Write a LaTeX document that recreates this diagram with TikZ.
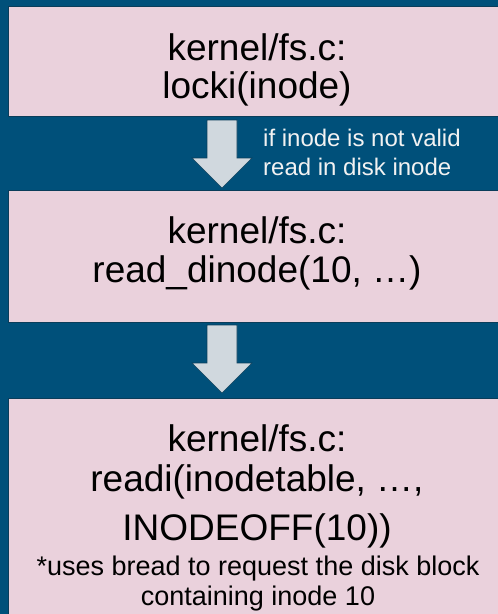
\documentclass[tikz,border=0pt]{standalone}
\usepackage{fontspec}
\setmainfont{Liberation Sans}
\definecolor{bgblue}{HTML}{00507A}
\definecolor{boxpink}{HTML}{EAD1DC}
\definecolor{boxedge}{HTML}{0A3D5A}
\definecolor{arrowfill}{HTML}{D0D8DE}
\definecolor{labelwhite}{HTML}{F2F2F2}
\tikzset{
  box/.style={rectangle, fill=boxpink, draw=boxedge, line width=0.8pt, inner sep=0pt, anchor=north west},
  bigtext/.style={inner sep=0pt, anchor=base, text=black, font=\fontsize{37}{37}\selectfont},
  smalltext/.style={inner sep=0pt, anchor=base, text=black, font=\fontsize{27}{30}\selectfont},
  labeltext/.style={inner sep=0pt, anchor=base west, text=labelwhite, font=\fontsize{24}{29}\selectfont},
  blockarrow/.style={fill=arrowfill, draw=boxedge, line width=0.6pt, line join=miter}
}
\begin{document}
\begin{tikzpicture}[x=1pt,y=-1pt]
\useasboundingbox (0,0) rectangle (498,614);
\clip (0,0) rectangle (498,614);
\fill[bgblue] (0,0) rectangle (498,614);
% boxes
\node[box, minimum width=500pt, minimum height=110pt] (b1) at (8,6) {};
\node[box, minimum width=500pt, minimum height=132pt] (b2) at (8,190) {};
\node[box, minimum width=500pt, minimum height=230pt] (b3) at (8,398) {};
% block arrows
\draw[blockarrow] (207,120) -- (237,120) -- (237,158) -- (252,158) -- (222,188) -- (192,158) -- (207,158) -- cycle;
\draw[blockarrow] (207,325) -- (237,325) -- (237,363) -- (252,363) -- (222,393) -- (192,363) -- (207,363) -- cycle;
% box 1 text
\node[bigtext] (t1a) at (257,60) {kernel/fs.c:};
\node[bigtext] (t1b) at (257,98) {locki(inode)};
% arrow label
\node[labeltext] (l1a) at (263,146.5) {if inode is not valid};
\node[labeltext] (l1b) at (263,175) {read in disk inode};
% box 2 text
\node[bigtext] (t2a) at (257,243) {kernel/fs.c:};
\node[bigtext] (t2b) at (257,282) {read\_dinode(10, …)};
% box 3 text
\node[bigtext] (t3a) at (257,451) {kernel/fs.c:};
\node[bigtext] (t3b) at (257,491) {readi(inodetable, …,};
\node[bigtext] (t3c) at (257,540) {INODEOFF(10))};
\node[smalltext] (t3d) at (258,575) {*uses bread to request the disk block};
\node[smalltext] (t3e) at (258,605) {containing inode 10};
\end{tikzpicture}
\end{document}
